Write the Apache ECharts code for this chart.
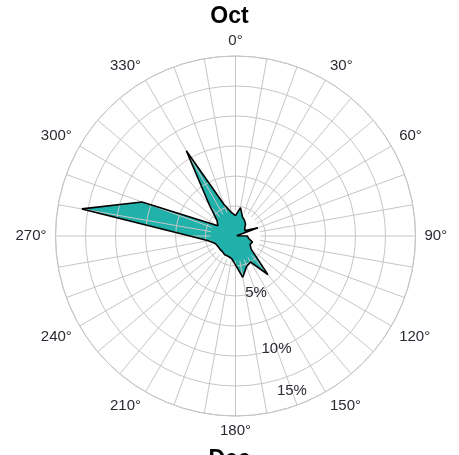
<!DOCTYPE html>
<html>
<head>
<meta charset="utf-8">
<script src="https://cdn.jsdelivr.net/npm/echarts@6/dist/echarts.min.js"></script>
<style>
  html, body { margin: 0; padding: 0; background: #fff; }
  #chart { width: 459px; height: 455px; }
</style>
</head>
<body>
<div id="chart"></div>
<script>
// wind direction bins (deg) and frequency (%)
var dirs = [0, 10, 20, 30, 40, 50, 60, 70, 80, 90, 100, 110,
  120, 130, 140, 150, 160, 170, 180, 190, 200, 210, 220, 230,
  240, 250, 260, 270, 280, 290, 300, 310, 320, 330, 340, 350];
var freq = [1.7, 2.4, 1.7, 1.5, 1.3, 1.0, 0.9, 2.0, 0.1, 1.0, 1.1, 1.5,
  1.4, 1.7, 4.2, 2.5, 2.7, 3.5, 2.4, 1.9, 1.8, 1.8, 1.7, 1.7,
  1.7, 1.8, 2.3, 3.8, 13.0, 8.3, 1.7, 2.0, 3.4, 8.2, 2.8, 2.0];
var rangeLabels = [5, 10, 15];
var topTitle = 'Oct';
var bottomTitle = 'Dec';

var gridColor = '#c6c6c6';
var textColor = '#2a2a33';
var cx = 235.5, cy = 236, R = 180;

function buildData() {
  var data = [];
  for (var i = 0; i < dirs.length; ++i) {
    data.push([freq[i], dirs[i]]);
  }
  // close the loop
  data.push([freq[0], 360]);
  return data;
}

var chart = echarts.init(document.getElementById('chart'));
var seriesData = buildData();

var option = {
  animation: false,
  backgroundColor: '#fff',
  title: [{
    text: topTitle,
    left: 'center',
    top: 5,
    padding: 0,
    textStyle: { fontFamily: 'Liberation Sans, Arial, sans-serif', fontSize: 23, fontWeight: 'bold', color: '#000' }
  }, {
    text: bottomTitle,
    left: 'center',
    top: 448,
    padding: 0,
    textStyle: { fontFamily: 'Liberation Sans, Arial, sans-serif', fontSize: 23, fontWeight: 'bold', color: '#000' }
  }],
  polar: [
    { center: [cx, cy], radius: R },
    { center: [cx, cy], radius: [25, R] },
    { center: [cx, cy], radius: R }
  ],
  angleAxis: [{
    // labels and outer circle
    polarIndex: 0,
    type: 'value', min: 0, max: 360, interval: 30,
    z: 3,
    axisLine: { show: true, lineStyle: { color: gridColor, width: 1 } },
    axisTick: { show: false },
    splitLine: { show: false },
    axisLabel: {
      margin: 9,
      lineHeight: 12,
      color: textColor,
      fontFamily: 'Liberation Sans, Arial, sans-serif',
      fontSize: 15,
      formatter: function(v) { return v === 360 ? '' : v + '°'; }
    }
  }, {
    // spokes every 10 degrees, not reaching the centre
    polarIndex: 1,
    type: 'value', min: 0, max: 360, interval: 10,
    z: 3,
    axisLine: { show: false },
    axisTick: { show: false },
    axisLabel: { show: false },
    splitLine: { show: true, lineStyle: { color: gridColor, width: 1 } }
  }, {
    // only carries the radius labels direction
    polarIndex: 2,
    type: 'value', min: 0, max: 360,
    startAngle: -70,
    show: false
  }],
  radiusAxis: [{
    polarIndex: 0,
    type: 'value', min: 0, max: 15, interval: 2.5,
    z: 3,
    axisLine: { show: false },
    axisTick: { show: false },
    axisLabel: { show: false },
    splitLine: { show: true, lineStyle: { color: gridColor, width: 1 } }
  }, {
    polarIndex: 1,
    type: 'value', min: 0, max: 15,
    show: false
  }, {
    polarIndex: 2,
    type: 'value', min: 0, max: 15,
    z: 4,
    axisLine: { show: false },
    axisTick: { show: false },
    splitLine: { show: false },
    axisLabel: {
      margin: 0,
      align: 'center',
      verticalAlign: 'middle',
      color: textColor,
      fontFamily: 'Liberation Sans, Arial, sans-serif',
      fontSize: 15,
      // outermost label sits just inside the outer ring
      customValues: [rangeLabels[0], rangeLabels[1], rangeLabels[2] - 1.25],
      formatter: function(v) { return Math.round(v / 5) * 5 + '%'; }
    }
  }],
  series: [{
    // fill under the grid
    type: 'line',
    coordinateSystem: 'polar',
    polarIndex: 0,
    z: 2,
    symbol: 'none',
    data: seriesData,
    lineStyle: { width: 0, opacity: 0 },
    areaStyle: { color: '#20b2aa', opacity: 1 }
  }, {
    // black outline on top
    type: 'line',
    coordinateSystem: 'polar',
    polarIndex: 0,
    z: 5,
    symbol: 'none',
    data: seriesData,
    lineStyle: { color: '#000', width: 1.6 }
  }]
};

chart.setOption(option);
</script>
</body>
</html>
